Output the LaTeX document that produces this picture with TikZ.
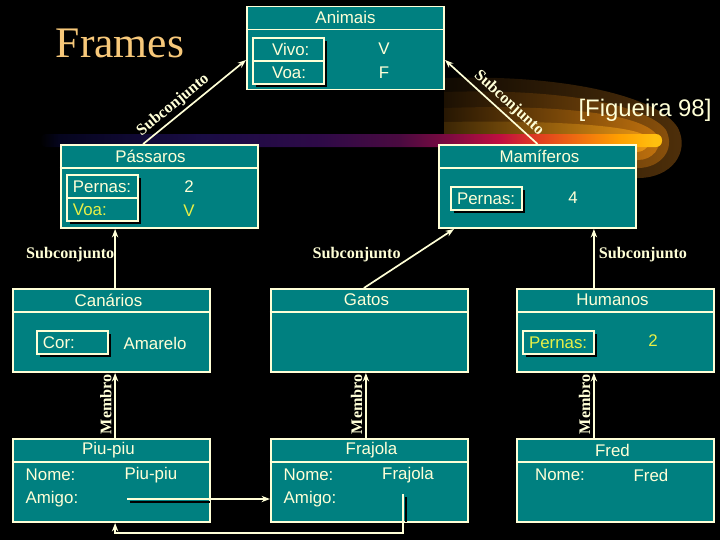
\documentclass[tikz,border=0pt]{standalone}
\usepackage{fontspec}
\setmainfont{Liberation Serif}
\setsansfont{Liberation Sans}
\usetikzlibrary{arrows.meta, positioning, shadows}

\definecolor{petroleo}{RGB}{0,128,128}
\definecolor{creme}{RGB}{255,255,215}
\definecolor{amarelo}{RGB}{232,240,70}
\definecolor{titulo}{RGB}{247,200,122}
\definecolor{brasa1}{RGB}{80,48,10}
\definecolor{brasa2}{RGB}{140,82,12}
\definecolor{brasa3}{RGB}{195,115,14}
\definecolor{brasa4}{RGB}{235,150,20}

\pgfdeclarehorizontalshading{faixa}{100bp}{rgb(0bp)=(0,0,0); rgb(25bp)=(0,0,0);
  rgb(26.6bp)=(0.02,0.02,0.12); rgb(37.9bp)=(0.10,0.05,0.27); rgb(47.5bp)=(0.18,0.04,0.28);
  rgb(53.9bp)=(0.29,0.04,0.25); rgb(58bp)=(0.50,0.04,0.25); rgb(62bp)=(0.75,0.06,0.25);
  rgb(65.2bp)=(0.88,0.25,0.12); rgb(68.4bp)=(0.94,0.44,0.06); rgb(71.6bp)=(1,0.63,0);
  rgb(74.4bp)=(1,0.75,0.06); rgb(100bp)=(1,0.75,0.06)}

\begin{document}
\begin{tikzpicture}[x=0.025cm, y=-0.025cm,
  quadro/.style={draw=creme, fill=petroleo, line width=1.4pt, minimum width=4.925cm,
                 minimum height=2.075cm, inner sep=0},
  campo/.style={draw=creme, fill=petroleo, line width=1.4pt, minimum height=0.575cm,
                text width=1.475cm, inner xsep=0.15cm, inner ysep=0, align=left,
                font=\sffamily\fontsize{12}{14}\selectfont, text=creme,
                drop shadow={shadow xshift=0.07cm, shadow yshift=-0.07cm, draw=none, fill=black, opacity=1}},
  texto/.style={font=\sffamily\fontsize{12}{14}\selectfont, text=creme, inner sep=1pt},
  rotulo/.style={font=\bfseries\fontsize{11.5}{13}\selectfont, text=creme, inner sep=2pt},
  seta/.style={draw=creme, line width=1.2pt, -{Stealth[length=6pt, width=4.5pt]}},
  divisa/.style={draw=creme, line width=1.4pt},
  sombra/.style={draw=black, line width=1.4pt}
]
  \useasboundingbox (0,0) rectangle (720,540);
  \fill[black] (0,0) rectangle (720,540);

  % brilho laranja e faixa
  \shade[left color=brasa1!20!black, right color=brasa1] (444,78) .. controls (570,74) and (660,98) .. (678,128)
    .. controls (690,152) and (672,178) .. (638,178) -- (444,178) -- cycle;
  \shade[left color=brasa2!20!black, right color=brasa2] (444,92) .. controls (565,88) and (648,106) .. (666,130)
    .. controls (676,150) and (660,168) .. (638,168) -- (444,168) -- cycle;
  \shade[left color=brasa3!20!black, right color=brasa3] (444,108) .. controls (560,104) and (640,114) .. (656,134)
    .. controls (664,148) and (652,160) .. (638,160) -- (444,160) -- cycle;
  \shade[left color=brasa4!25!black, right color=brasa4] (444,122) .. controls (560,120) and (632,126) .. (646,136)
    .. controls (652,144) and (646,152) .. (636,152) -- (444,152) -- cycle;
  \shade[shading=faixa, rounded corners=0.15cm] (40,134) rectangle (662,147);

  \node[font=\fontsize{31}{36}\selectfont, text=titulo] (frames) at (120,43) {Frames};
  \node[font=\sffamily\fontsize{17}{20}\selectfont, text=creme] (figueira) at (645,110) {[Figueira 98]};

  % quadros
  \foreach \nome/\px/\py/\dx/\titulo in {animais/345.5/48/0/Animais,
      passaros/159.5/186.5/-9/Pássaros, mamiferos/537.5/186.5/2/Mamíferos,
      canarios/111.5/330.5/-3/Canários, gatos/369.5/330.5/-3/Gatos, humanos/615.5/330.5/-3/Humanos,
      piupiu/111.5/480.5/-3/Piu-piu, frajola/369.5/480.5/2/Frajola, fred/615.5/480.5/-3/Fred}{
    \node[quadro] (\nome) at (\px,\py) {};
    \draw[divisa] ([yshift=-0.6cm]\nome.north west) -- ([yshift=-0.6cm]\nome.north east);
    \node[texto] (\nome-titulo) at ([shift={(\dx,12)}]\nome.north) {\titulo};
  }

  % campos
  \node[campo] (vivo) at (288.5,49.5) {\hspace*{0.33cm}Vivo:};
  \node[campo] (voa) at (288.5,72.5) {\hspace*{0.33cm}Voa:};
  \node[texto] (vivoV) at (384,49) {V};
  \node[texto] (voaV) at (384,72.5) {F};

  \node[campo] (pernasP) at (102.5,186.5) {Pernas:};
  \node[campo, text=amarelo] (voaP) at (102.5,209.5) {Voa:};
  \node[texto] (pernasPV) at (189,187) {2};
  \node[texto, text=amarelo] (voaPV) at (189,211) {V};

  \node[campo] (pernasM) at (486.5,198.5) {Pernas:};
  \node[texto] (pernasMV) at (573,198) {4};

  \node[campo] (cor) at (72.5,342.5) {Cor:};
  \node[texto] (corV) at (155,343) {Amarelo};

  \node[campo, text=amarelo] (pernasH) at (558.5,342.5) {Pernas:};
  \node[texto, text=amarelo] (pernasHV) at (653,341) {2};

  \node[texto, anchor=west] (piuNome) at (24,475) {Nome:};
  \node[texto] (piuNomeV) at (151,475) {Piu-piu};
  \node[texto, anchor=west] (piuAmigo) at (24,499) {Amigo:};
  \node[texto, anchor=west] (fraNome) at (282,475) {Nome:};
  \node[texto] (fraNomeV) at (408,475) {Frajola};
  \node[texto, anchor=west] (fraAmigo) at (282,499) {Amigo:};
  \node[texto] (fredNome) at (560,475) {Nome:};
  \node[texto] (fredNomeV) at (651,475) {Fred};

  % ligacoes
  \draw[seta] ([xshift=-0.41cm]passaros.north) -- ([yshift=-0.3cm]animais.west)
    node[rotulo, pos=0.36, sloped, above] {Subconjunto};
  \draw[seta] (mamiferos.north) -- ([yshift=-0.3cm]animais.east)
    node[rotulo, pos=0.39, sloped, above] {Subconjunto};

  \coordinate (pCan) at ([xshift=0.09cm]canarios.north);
  \draw[seta] (pCan) -- (pCan |- passaros.south)
    node[rotulo, pos=0.56, left, inner sep=0pt] {Subconjunto};
  \draw[seta] ([xshift=-0.14cm]gatos.north) -- ([xshift=0.4cm]mamiferos.south west)
    node[rotulo, pos=0.56, left=0.25cm] {Subconjunto};
  \coordinate (pHum) at ([xshift=-0.54cm]humanos.north);
  \draw[seta] (pHum) -- (pHum |- mamiferos.south)
    node[rotulo, pos=0.56, right, inner sep=3pt] {Subconjunto};

  \coordinate (pPiu) at ([xshift=0.09cm]piupiu.north);
  \draw[seta] (pPiu) -- (pPiu |- canarios.south)
    node[rotulo, pos=0.52, sloped, above] {Membro};
  \coordinate (pFra) at ([xshift=-0.09cm]frajola.north);
  \draw[seta] (pFra) -- (pFra |- gatos.south)
    node[rotulo, pos=0.52, sloped, above] {Membro};
  \coordinate (pFred) at ([xshift=-0.54cm]fred.north);
  \draw[seta] (pFred) -- (pFred |- humanos.south)
    node[rotulo, pos=0.52, sloped, above] {Membro};

  \coordinate (amigoPiu) at (127,499);
  \coordinate (amigoFra) at (403,494);
  \coordinate (volta) at (0,533);
  \draw[sombra] (amigoPiu) ++(3,3) -- ++(80,0);
  \draw[seta] (amigoPiu) -- (amigoPiu -| frajola.west);
  \draw[sombra] (amigoFra) ++(3,3) -- ++(0,25);
  \draw[seta] (amigoFra) -- (amigoFra |- volta) -| ([xshift=0.09cm]piupiu.south);
\end{tikzpicture}
\end{document}
